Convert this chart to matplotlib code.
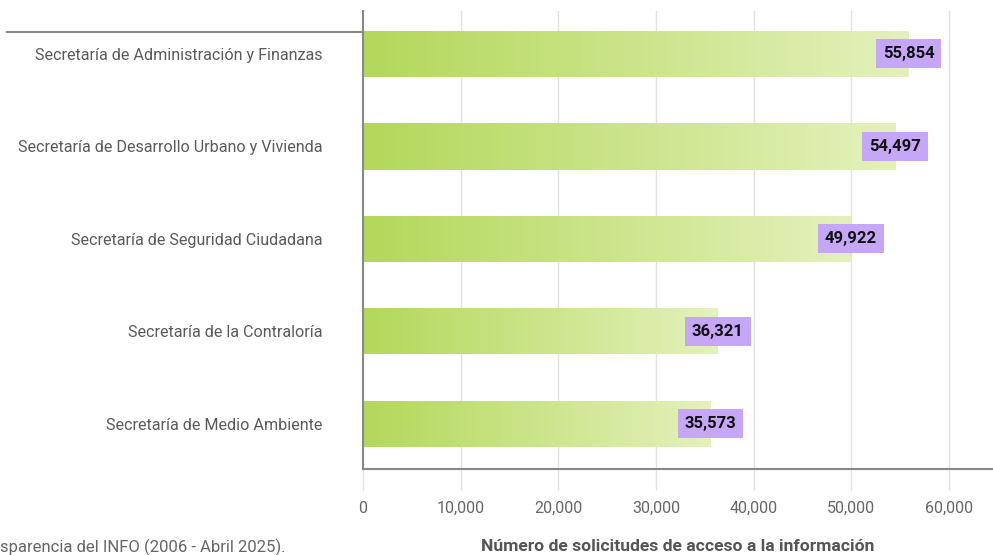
import numpy as np
import matplotlib
matplotlib.use("Agg")
import matplotlib.pyplot as plt
from matplotlib.lines import Line2D
from matplotlib.colors import LinearSegmentedColormap

plt.rcParams['font.family'] = ['Roboto', 'DejaVu Sans']

categories = ['Secretaría de Administración y Finanzas',
              'Secretaría de Desarrollo Urbano y Vivienda',
              'Secretaría de Seguridad Ciudadana',
              'Secretaría de la Contraloría',
              'Secretaría de Medio Ambiente']
values = [55854, 54497, 49922, 36321, 35573]
xticks = [0, 10000, 20000, 30000, 40000, 50000, 60000]

W, H = 993, 555
fig = plt.figure(figsize=(W / 100, H / 100), dpi=100)
ax = fig.add_axes([363 / W, 1 - 469 / H, 1 - 363 / W, (469 - 11) / H])

cmap = LinearSegmentedColormap.from_list('verde', ['#b3d85a', '#e4f1bc'])
grad = np.linspace(0, 1, 256).reshape(1, -1)

ypos = np.arange(len(categories))
bars = ax.barh(ypos, values, height=0.5, color='none', zorder=2)
for b, v, y in zip(bars, values, ypos):
    im = ax.imshow(grad, cmap=cmap, aspect='auto', extent=[0, v, y + 0.25, y - 0.25],
                   zorder=2, interpolation='bicubic')
    im.set_clip_path(b)
    ax.text(v, y, f'{v:,}', ha='center', va='center', fontsize=12, fontweight='bold',
            color='#111111', zorder=4,
            bbox=dict(facecolor='#c6a6f7', edgecolor='none', boxstyle='square,pad=0.42'))

ax.set_xlim(0, 64500)
ax.set_ylim(4.49, -0.465)

ax.set_yticks(ypos)
ax.set_yticklabels(categories)
ax.set_xticks(xticks)
ax.set_xticklabels([f'{t:,}' for t in xticks])
ax.tick_params(axis='y', length=0, pad=29, labelsize=11.6, labelcolor='#5a5a5a')
ax.tick_params(axis='x', length=15, width=1, color='#e2e2e2', pad=8,
               labelsize=11.5, labelcolor='#666666')
ax.xaxis.get_major_ticks()[0].tick1line.set_color('#888888')
ax.xaxis.get_major_ticks()[0].tick1line.set_linewidth(1.5)

ax.grid(axis='x', color='#e2e2e2', linewidth=1, zorder=0)
ax.set_axisbelow(True)
for s in ['top', 'right']:
    ax.spines[s].set_visible(False)
for s in ['left', 'bottom']:
    ax.spines[s].set_color('#888888')
    ax.spines[s].set_linewidth(1.5)
    ax.spines[s].set_zorder(3)

ax.set_xlabel('Número de solicitudes de acceso a la información', fontsize=12.6,
              fontweight='bold', color='#555555')
ax.xaxis.set_label_coords(0.5, -0.170)
ax.xaxis.label.set_va('center')

fig.add_artist(Line2D([7 / W, 363 / W], [1 - 32 / H, 1 - 32 / H], color='#888888', linewidth=1.5))
fig.text(0, 1 - 547 / H, 'sparencia del INFO (2006 - Abril 2025).', fontsize=12,
         color='#666666', ha='left', va='center')

fig.savefig('out.png', dpi=100)
